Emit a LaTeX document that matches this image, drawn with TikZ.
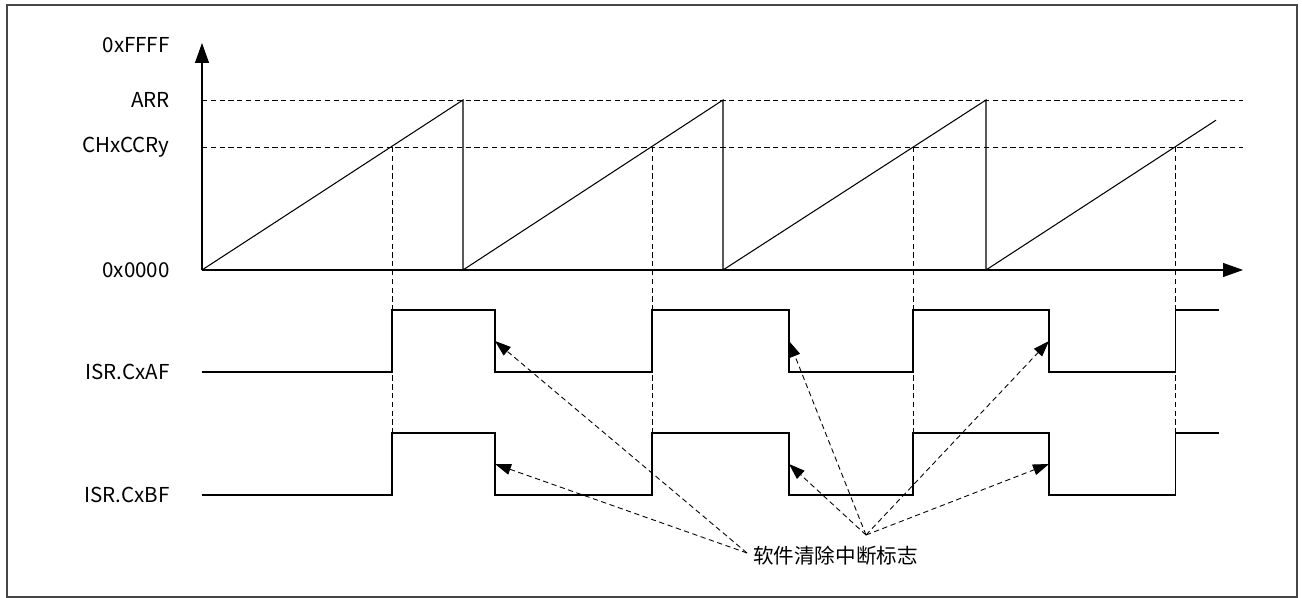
\documentclass[tikz,border=0pt]{standalone}
\usepackage{fontspec}
\setmainfont{Noto Sans CJK SC}
\usepackage{xcolor}
\usepackage{tikz}
\usetikzlibrary{arrows.meta,calc}
\definecolor{ink}{RGB}{0,0,0}
\definecolor{framegray}{RGB}{70,70,70}
\tikzset{
  sig/.style={ink, line width=0.6pt},
  guide/.style={ink, line width=0.5pt, dash pattern=on 3pt off 2pt},
  axisarrow/.style={-{Triangle[length=0.4cm,width=0.28cm]}, ink, line width=0.6pt},
  clrarrow/.style={-{Triangle[length=0.32cm,width=0.22cm]}, ink, line width=0.5pt, dash pattern=on 3pt off 2pt},
  lvl/.style={anchor=east, inner sep=0pt, text=ink, font=\fontsize{11.7}{14}\selectfont}
}

\begin{document}
\begin{tikzpicture}
        \useasboundingbox (-4.04,-6.56) rectangle (22,5.4);
        \draw[framegray, line width=0.6pt] (-3.9,-6.54) rectangle (21.9,5.3);
        % axes and levels
        \coordinate (o) at (0,0);
        \coordinate (ytip) at (0,4.54);\coordinate (xtip) at (20.82,0);
        \coordinate (arr0) at (0,3.4);\coordinate (arr1) at (20.82,3.4);
        \coordinate (ccr0) at (0,2.46);\coordinate (ccr1) at (20.82,2.46);
        \draw[guide](arr0)--(arr1);\draw[guide](ccr0)--(ccr1);
        \draw[axisarrow](o)--(ytip);\draw[axisarrow](o)--(xtip);
        \node[lvl] (lffff) at (-0.64,4.5) {0xFFFF};
        \node[lvl] (larr) at (-0.64,3.4) {ARR};
        \node[lvl] (lccr) at (-0.64,2.46) {CHxCCRy};
        \node[lvl] (lzero) at (-0.64,0) {0x0000};
        \node[lvl] (laf) at (-0.64,-2.04) {ISR.CxAF};
        \node[lvl] (lbf) at (-0.64,-4.5) {ISR.CxBF};
        % counter
        \draw[sig] (o) -- (5.22,3.4) -- (5.22,0) -- (10.42,3.4) -- (10.42,0)
          -- (15.68,3.4) -- (15.68,0) -- (20.28,2.996);
        % compare match guides
        \foreach \x in {3.8,9.0,14.22,19.47}
          \draw[guide] (\x,2.46) -- (\x,-3.26);
        % flags
        \foreach \lo/\hi in {-2.04/-0.8,-4.5/-3.26}
          \draw[sig] (0,\lo) -- (3.8,\lo) -- (3.8,\hi) -- (5.86,\hi) -- (5.86,\lo)
            -- (9.0,\lo) -- (9.0,\hi) -- (11.74,\hi) -- (11.74,\lo)
            -- (14.22,\lo) -- (14.22,\hi) -- (16.94,\hi) -- (16.94,\lo)
            -- (19.47,\lo) -- (19.47,\hi) -- (20.34,\hi);
        \coordinate (af1) at (5.86,-1.42);\coordinate (af2) at (11.74,-1.42);\coordinate (af3) at (16.94,-1.42);
        \coordinate (bf1) at (5.86,-3.88);\coordinate (bf2) at (11.74,-3.88);\coordinate (bf3) at (16.94,-3.88);
        % software clear
        \node[lvl,anchor=center] (note) at (12.67,-5.72) {软件清除中断标志};
        \coordinate (hubl) at (10.9,-5.66);\coordinate (hubr) at (13.28,-5.3);
        \draw[clrarrow](hubl)--(af1);\draw[clrarrow](hubl)--(bf1);
        \draw[clrarrow](hubr)--(af2);\draw[clrarrow](hubr)--(bf2);
        \draw[clrarrow](hubr)--(af3);\draw[clrarrow](hubr)--(bf3);
      \end{tikzpicture}
\end{document}
